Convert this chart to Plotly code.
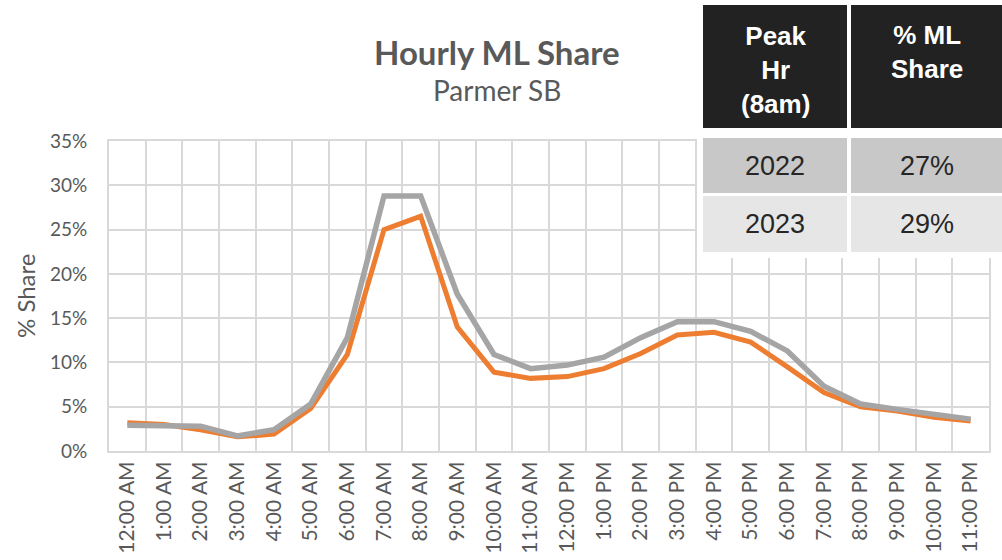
import plotly.graph_objects as go

hours = ["12:00 AM", "1:00 AM", "2:00 AM", "3:00 AM", "4:00 AM", "5:00 AM",
         "6:00 AM", "7:00 AM", "8:00 AM", "9:00 AM", "10:00 AM", "11:00 AM",
         "12:00 PM", "1:00 PM", "2:00 PM", "3:00 PM", "4:00 PM", "5:00 PM",
         "6:00 PM", "7:00 PM", "8:00 PM", "9:00 PM", "10:00 PM", "11:00 PM"]

share_2022 = [3.2, 3.0, 2.4, 1.6, 1.9, 4.8, 10.9, 25.0, 26.5, 14.0, 8.9, 8.2,
              8.4, 9.3, 11.0, 13.1, 13.4, 12.3, 9.5, 6.6, 5.0, 4.5, 3.8, 3.4]
share_2023 = [2.9, 2.9, 2.8, 1.7, 2.4, 5.3, 12.8, 28.8, 28.8, 17.7, 10.9, 9.3,
              9.7, 10.6, 12.8, 14.6, 14.6, 13.5, 11.3, 7.3, 5.3, 4.7, 4.1, 3.6]

y_ticks = [0, 5, 10, 15, 20, 25, 30, 35]

table_header = ["Peak<br>Hr<br>(8am)", "% ML<br>Share"]
table_years = ["2022", "2023"]
table_share = ["27%", "29%"]

W, H = 1002, 560
L, R, T, B = 109, 989, 141, 451

def px(x):
    return (x - L) / (R - L)

def py(y):
    return (B - y) / (B - T)

fig = go.Figure()
fig.add_trace(go.Scatter(x=hours, y=share_2022, mode="lines", name="2022",
                         line=dict(color="#ED7D31", width=5)))
fig.add_trace(go.Scatter(x=hours, y=share_2023, mode="lines", name="2023",
                         line=dict(color="#A5A5A5", width=5.5)))

grid = "#D9D9D9"
fig.update_layout(
    width=W, height=H,
    margin=dict(l=L, r=W - R, t=T, b=H - B, autoexpand=False),
    paper_bgcolor="white", plot_bgcolor="white",
    showlegend=False,
    font=dict(family="Lato", color="#595959"),
    xaxis=dict(type="category", tickson="boundaries", showgrid=True,
               gridcolor=grid, gridwidth=2, ticks="outside", ticklen=19,
               tickcolor="rgba(0,0,0,0)", tickangle=-90,
               tickfont=dict(size=21, family="Lato", color="#595959"),
               showline=True, linecolor=grid, linewidth=2, mirror=True,
               zeroline=False, range=[-0.5, 23.5], automargin=False),
    yaxis=dict(range=[0, 35], tickvals=y_ticks,
               ticktext=[f"{v}%" for v in y_ticks],
               showgrid=True, gridcolor=grid, gridwidth=2,
               tickfont=dict(size=19, family="Lato", color="#595959"),
               ticks="outside", ticklen=16, tickcolor="rgba(0,0,0,0)",
               zeroline=False, automargin=False,
               showline=True, linecolor=grid, linewidth=2, mirror=True),
)

# Axis title
fig.add_annotation(x=px(25), y=py(296), xref="paper", yref="paper",
                   text="% Share", showarrow=False, textangle=-90,
                   font=dict(size=24, family="Lato", color="#595959"),
                   xanchor="center", yanchor="middle")

# Title and subtitle
fig.add_annotation(x=px(497), y=py(52), xref="paper", yref="paper",
                   text="<b>Hourly ML Share</b>", showarrow=False,
                   font=dict(size=33, family="Lato", color="#595959"),
                   xanchor="center", yanchor="middle")
fig.add_annotation(x=px(497), y=py(90), xref="paper", yref="paper",
                   text="Parmer SB", showarrow=False,
                   font=dict(size=28, family="Lato", color="#595959"),
                   xanchor="center", yanchor="middle")

# Table
shapes = []
shapes.append(dict(type="rect", xref="paper", yref="paper", x0=px(697), x1=px(1002),
                   y0=py(258), y1=py(0), fillcolor="white", line=dict(width=0), layer="above"))
cols = [(703, 847), (851, 1002)]
for (x0, x1) in cols:
    shapes.append(dict(type="rect", xref="paper", yref="paper", x0=px(x0), x1=px(x1),
                       y0=py(128), y1=py(5), fillcolor="#222222", line=dict(width=0), layer="above"))
rows = [(138, 193, "#C8C8C8"), (196, 252, "#E6E6E6")]
for (y0, y1, c) in rows:
    for (x0, x1) in cols:
        shapes.append(dict(type="rect", xref="paper", yref="paper", x0=px(x0), x1=px(x1),
                           y0=py(y1), y1=py(y0), fillcolor=c, line=dict(width=0), layer="above"))
fig.update_layout(shapes=shapes)

header_centers = [70, 52]
for (x0, x1), txt, yc in zip(cols, table_header, header_centers):
    fig.add_annotation(x=px((x0 + x1) / 2), y=py(yc), xref="paper", yref="paper",
                       text=f"<b>{txt}</b>", showarrow=False,
                       font=dict(size=26, family="Liberation Sans", color="white"),
                       xanchor="center", yanchor="middle")
for i, (y0, y1, c) in enumerate(rows):
    for (x0, x1), txt in zip(cols, [table_years[i], table_share[i]]):
        fig.add_annotation(x=px((x0 + x1) / 2), y=py((y0 + y1) / 2), xref="paper", yref="paper",
                           text=txt, showarrow=False,
                           font=dict(size=27, family="Liberation Sans", color="#262626"),
                           xanchor="center", yanchor="middle")

fig.write_html("out.html", config={"displayModeBar": False},
               post_script="document.body.style.margin='0px';")
